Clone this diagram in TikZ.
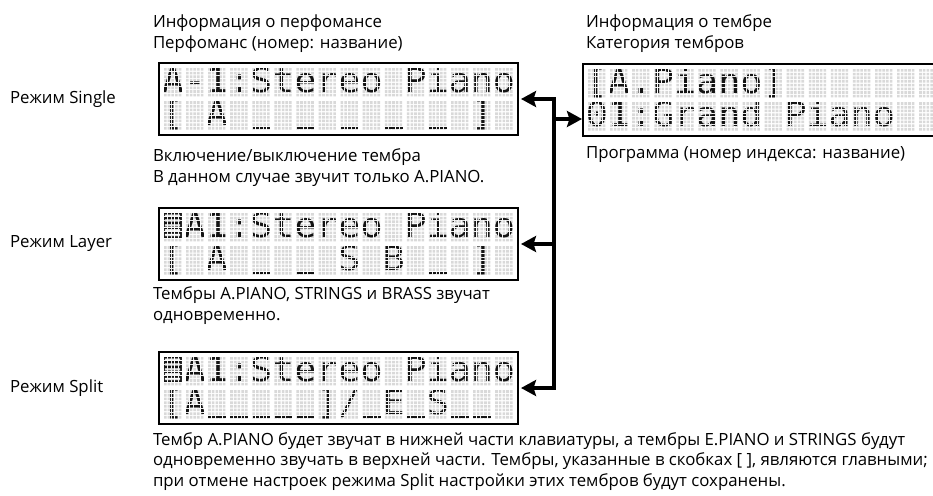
\documentclass[tikz,border=0pt]{standalone}
\usepackage{fontspec}
\usepackage{graphicx}
\setmainfont{Open Sans}
\newfontfamily\lcdfont[FakeStretch=1.0787]{DejaVu Sans Mono}
\newfontfamily\lcdblk[FakeStretch=2.2924]{DejaVu Sans Mono}
\usetikzlibrary{arrows.meta}
\definecolor{lcdoff}{HTML}{D9D9D9}
\definecolor{lcdon}{HTML}{141414}
\newcommand\lcdus{{\lcdblk\fontsize{16}{16}\selectfont ▁}}
\newcommand\lcdicon{\makebox[22.08pt][l]{\hspace{1.6pt}\resizebox{19pt}{25pt}{▤}}}
\newcommand\lcdunit[5]{%
  \node[lcdframe, anchor=north west] (#1) at (#2,#3) {};
  \begin{scope}
    \clip foreach \lcx in {0,...,15}{foreach \lck in {0,...,4}{({#2+5+\lcx*22.08+\lck*3.68},{#3+5.1}) rectangle ++(2.6,61.83)}};
    \clip foreach \lcr in {0,1}{foreach \lcm in {0,...,7}{({#2+5},{#3+5.1+\lcr*33.12+\lcm*3.68}) rectangle ++(348.9,2.6)}};
    \fill[lcdoff] (#2,#3) rectangle ++(359,72);
    \node[lcdtext] (#1-a) at ({#2+2.8},{#3+29.8}) {#4};
    \node[lcdtext] (#1-b) at ({#2+2.8},{#3+62.9}) {#5};
  \end{scope}}
\begin{document}
\begin{tikzpicture}[x=1pt,y=-1pt,
  lcdframe/.style={draw=black, line width=1.1pt, fill=white, minimum width=359pt, minimum height=72pt, inner sep=0pt, outer sep=0pt},
  lcdtext/.style={anchor=base west, inner sep=0pt, outer sep=0pt, text=lcdon, font=\lcdfont\fontsize{34}{34}\selectfont},
  lbl/.style={anchor=base west, inner sep=0pt, outer sep=0pt, font=\fontsize{16.8}{20}\selectfont},
  mode/.style={anchor=west, inner sep=0pt, outer sep=0pt, font=\fontsize{16.8}{20}\selectfont},
  conn/.style={line width=4.5pt, draw=black, line join=miter},
  lcdarrow/.tip={Stealth[length=15pt,width=16pt,inset=2.5pt]}
]
\useasboundingbox (0,0) rectangle (933,495);
\begin{scope}
\clip (0,0) rectangle (933,495);
\lcdunit{d1}{159}{63}{A-1:Stereo Piano}{[ A {\lcdus} {\lcdus} {\lcdus} {\lcdus} {\lcdus} ]}
\lcdunit{d2}{159}{208}{\lcdicon A1:Stereo Piano}{[ A {\lcdus} {\lcdus} S B {\lcdus} ]}
\lcdunit{d3}{159}{352}{\lcdicon A1:Stereo Piano}{[A{\lcdus}{\lcdus}{\lcdus}{\lcdus}{\lcdus}]/{\lcdus}E{\lcdus}S{\lcdus}{\lcdus}}
\lcdunit{rd}{583}{64}{[A.Piano]}{01:Grand Piano}
\end{scope}

\coordinate (vt) at (554,99);
\coordinate (vb) at (554,388);
\coordinate (br) at (554,119);
\coordinate (bl) at (554,244);
\draw[conn, lcdarrow-lcdarrow] ([xshift=3pt]d1.east) -- (vt) -- (vb) -- ([xshift=3pt]d3.east);
\draw[conn, -lcdarrow] (br) -- ([xshift=-1pt]rd.west |- br);
\draw[conn, -lcdarrow] (bl) -- ([xshift=3pt]d2.east |- bl);

\node[lbl] (t1a) at (153,27.5) {Информация о перфомансе};
\node[lbl] (t1b) at (153,48.5) {Перфоманс (номер: название)};
\node[lbl] (t2a) at (586,27.5) {Информация о тембре};
\node[lbl] (t2b) at (586,48.5) {Категория тембров};
\node[lbl] (t3) at (586,158.5) {Программа (номер индекса: название)};
\node[lbl] (t4a) at (153,161.5) {Включение/выключение тембра};
\node[lbl] (t4b) at (153,182.5) {В данном случае звучит только A.PIANO.};
\node[lbl] (t5a) at (153,299.5) {Тембры A.PIANO, STRINGS и BRASS звучат};
\node[lbl] (t5b) at (153,320.5) {одновременно.};
\node[lbl] (t6a) at (153,445) {Тембр A.PIANO будет звучат в нижней части клавиатуры, а тембры E.PIANO и STRINGS будут};
\node[lbl] (t6b) at (153,465.5) {одновременно звучать в верхней части. Тембры, указанные в скобках [ ], являются главными;};
\node[lbl] (t6c) at (153,486) {при отмене настроек режима Split настройки этих тембров будут сохранены.};

\node[mode] (m1) at (10,99) {Режим Single};
\node[mode] (m2) at (10,244) {Режим Layer};
\node[mode] (m3) at (10,388) {Режим Split};
\end{tikzpicture}
\end{document}
